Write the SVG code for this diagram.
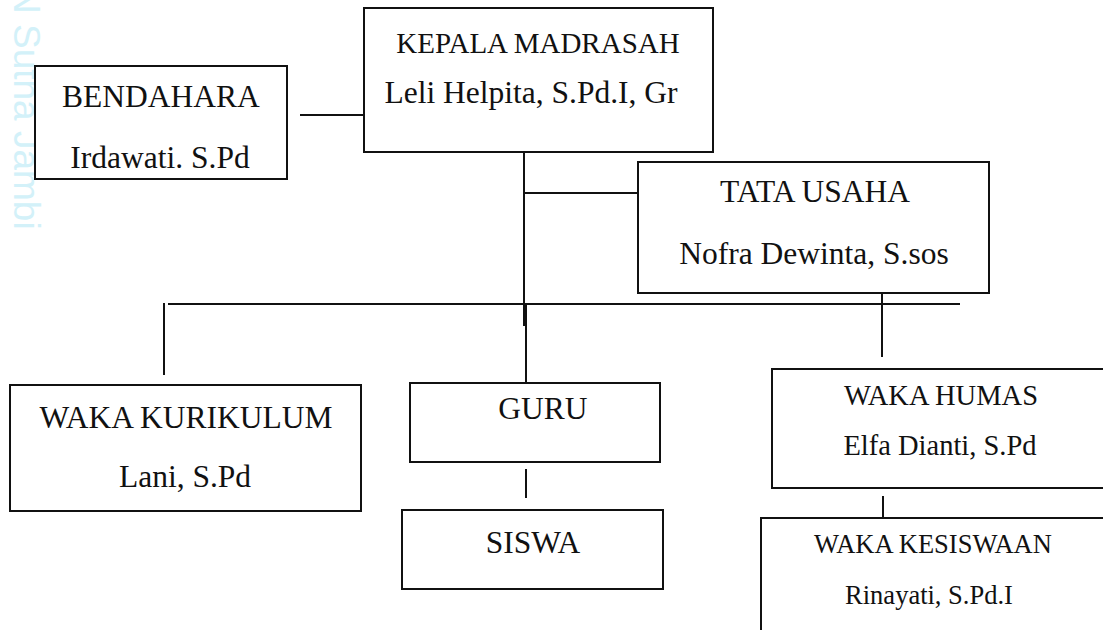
<svg xmlns="http://www.w3.org/2000/svg" width="1103" height="630" viewBox="0 0 1103 630">
<style>
.box{fill:#fff;stroke:#111;stroke-width:2}
.ln{stroke:#111;stroke-width:2;fill:none}
.t{font-family:"Liberation Serif","Times New Roman",serif;font-size:31.5px;fill:#111;text-anchor:middle}
.s{font-size:28.5px}
.xs{font-size:26.5px}
.wm{font-family:"Liberation Sans",Arial,sans-serif;font-size:37px;fill:#d3f1f9}
</style>
<rect width="1103" height="630" fill="#fff"/>
<text class="wm" transform="translate(14,-50) rotate(90)">UIN Sutha Jambi</text>
<g id="connectors">
<line class="ln" x1="300" y1="115" x2="364" y2="115"/>
<line class="ln" x1="524" y1="133" x2="524" y2="326"/>
<line class="ln" x1="525" y1="193" x2="638" y2="193"/>
<line class="ln" x1="168" y1="304" x2="960" y2="304"/>
<line class="ln" x1="164" y1="303" x2="164" y2="375"/>
<line class="ln" x1="526" y1="303" x2="526" y2="383"/>
<line class="ln" x1="882" y1="290" x2="882" y2="357"/>
<line class="ln" x1="526" y1="469" x2="526" y2="498"/>
<line class="ln" x1="883" y1="496" x2="883" y2="518"/>
</g>
<g id="kepala">
<rect class="box" x="364" y="8" width="349" height="144"/>
<text class="t" x="538" y="53" style="font-size:29px">KEPALA MADRASAH</text>
<text class="t" x="531" y="103">Leli Helpita, S.Pd.I, Gr</text>
</g>
<g id="bendahara">
<rect class="box" x="35" y="66" width="252" height="113"/>
<text class="t" x="161" y="107">BENDAHARA</text>
<text class="t" x="160" y="168">Irdawati. S.Pd</text>
</g>
<g id="tata-usaha">
<rect class="box" x="638" y="162" width="351" height="131"/>
<text class="t" x="815" y="202">TATA USAHA</text>
<text class="t" x="814" y="264">Nofra Dewinta, S.sos</text>
</g>
<g id="waka-kurikulum">
<rect class="box" x="10" y="385" width="351" height="126"/>
<text class="t" x="186" y="428">WAKA KURIKULUM</text>
<text class="t" x="185" y="487">Lani, S.Pd</text>
</g>
<g id="guru">
<rect class="box" x="410" y="383" width="250" height="79"/>
<text class="t" x="543" y="419">GURU</text>
</g>
<g id="siswa">
<rect class="box" x="402" y="510" width="261" height="79"/>
<text class="t" x="533" y="553">SISWA</text>
</g>
<g id="waka-humas">
<rect class="box" x="772" y="369" width="345" height="119"/>
<text class="t s" x="941" y="405">WAKA HUMAS</text>
<text class="t s" x="940" y="455">Elfa Dianti, S.Pd</text>
</g>
<g id="waka-kesiswaan">
<rect class="box" x="761" y="518" width="360" height="130"/>
<text class="t xs" x="933" y="553">WAKA KESISWAAN</text>
<text class="t xs" x="929" y="604">Rinayati, S.Pd.I</text>
</g>
</svg>
